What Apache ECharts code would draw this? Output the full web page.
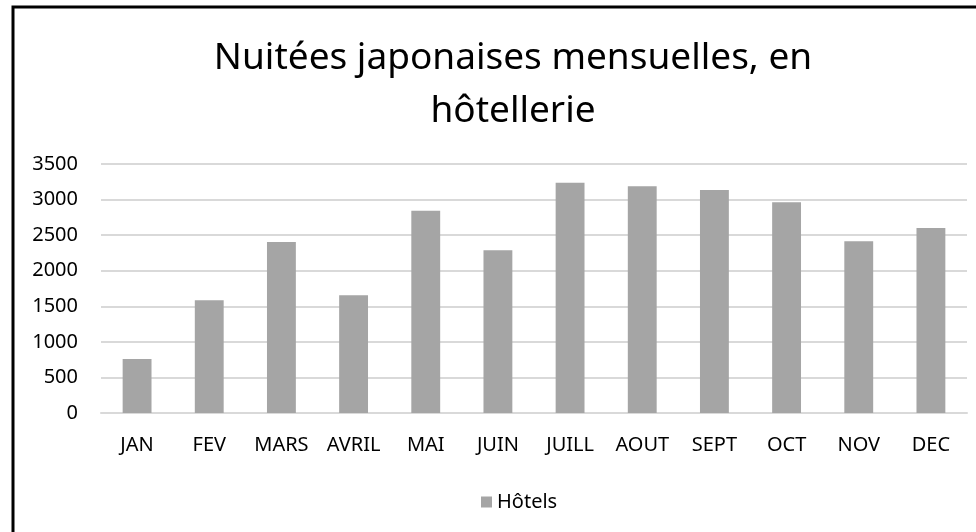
<!DOCTYPE html>
<html>
<head>
<meta charset="utf-8">
<script src="https://cdn.jsdelivr.net/npm/echarts@6/dist/echarts.min.js"></script>
<style>
  html, body { margin: 0; padding: 0; background: #fff; }
  #chart { width: 976px; height: 532px; }
</style>
</head>
<body>
<div id="chart"></div>
<script>
const months = ['JAN', 'FEV', 'MARS', 'AVRIL', 'MAI', 'JUIN', 'JUILL', 'AOUT', 'SEPT', 'OCT', 'NOV', 'DEC']
const hotels = [759, 1584, 2404, 1654, 2844, 2287, 3238, 3187, 3135, 2962, 2413, 2601]
const seriesName = 'Hôtels'
const titleText = 'Nuitées japonaises mensuelles, en\nhôtellerie'

const font = '"Noto Sans", sans-serif'

const chart = echarts.init(document.getElementById('chart'), null, { renderer: 'canvas' })

chart.setOption({
  animation: false,
  backgroundColor: '#fff',
  textStyle: { fontFamily: font },
  graphic: [{
    type: 'rect',
    shape: { x: 13, y: 7, width: 1000, height: 600 },
    style: { fill: 'none', stroke: '#000', lineWidth: 3 }
  }],
  title: {
    text: titleText,
    left: 508,
    textAlign: 'center',
    top: 27,
    textStyle: {
      fontFamily: font,
      fontSize: 37,
      fontWeight: 'normal',
      color: '#000',
      lineHeight: 53
    }
  },
  legend: {
    top: 487,
    left: 476,
    itemWidth: 11,
    itemHeight: 11,
    icon: 'rect',
    textStyle: { fontFamily: font, fontSize: 20, color: '#000' },
    data: [seriesName]
  },
  grid: {
    left: 101,
    right: 9,
    top: 164,
    bottom: 119,
    containLabel: false
  },
  xAxis: {
    type: 'category',
    data: months,
    axisLine: { lineStyle: { color: '#d9d9d9', width: 2 } },
    axisTick: { show: false },
    axisLabel: {
      color: '#000',
      fontFamily: font,
      fontSize: 20,
      margin: 22,
      interval: 0
    }
  },
  yAxis: {
    type: 'value',
    min: 0,
    max: 3500,
    interval: 500,
    axisLine: { show: false },
    axisTick: { show: false },
    splitLine: { lineStyle: { color: '#d9d9d9', width: 2 } },
    axisLabel: {
      color: '#000',
      fontFamily: font,
      fontSize: 20,
      margin: 23,
      formatter: v => String(v)
    }
  },
  series: [{
    name: seriesName,
    type: 'bar',
    data: hotels,
    barWidth: '40%',
    itemStyle: { color: '#a5a5a5' }
  }]
})
</script>
</body>
</html>
